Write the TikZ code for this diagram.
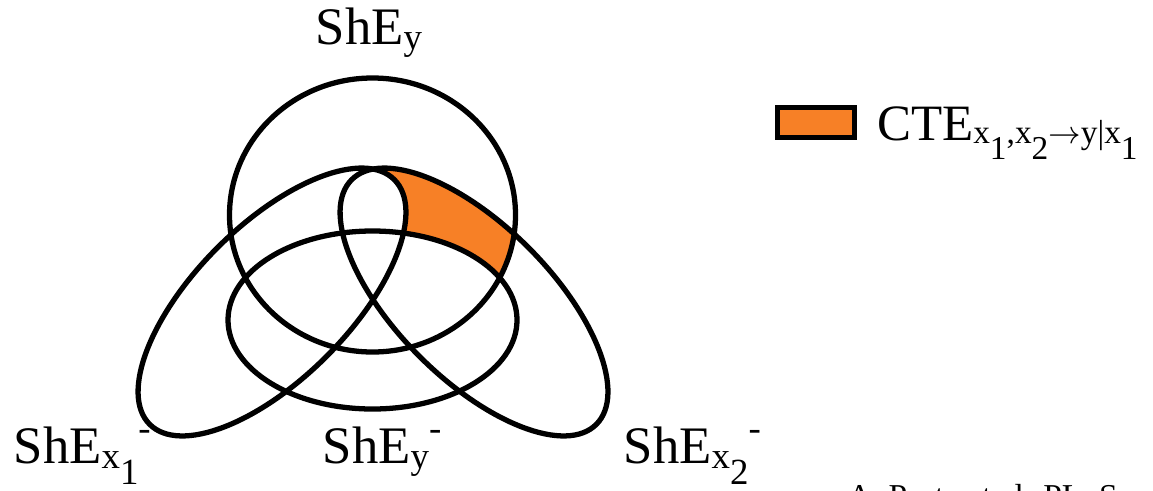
\documentclass[tikz,border=0pt]{standalone}
\usepackage{fontspec}
\setmainfont{Liberation Serif}
\usetikzlibrary{positioning}
\definecolor{cteorange}{RGB}{247,128,38}

% low / lower / high index pieces, as in the slide
\newcommand{\lo}[1]{\raisebox{-1.5pt}{\fontsize{10.5}{12}\selectfont #1}}
\newcommand{\ctelo}[1]{\raisebox{-1pt}{\fontsize{9.5}{11}\selectfont #1}}
\newcommand{\lolo}[1]{\raisebox{-4.5pt}{#1}}
\newcommand{\hi}[1]{\raisebox{6.5pt}{\fontsize{10.5}{12}\selectfont #1}}

\begin{document}
\begin{tikzpicture}[
    setline/.style={draw=black, line width=1.5pt},
    lbl/.style={inner sep=0pt, anchor=base west,
                font=\fontsize{15}{18}\selectfont},
    keybox/.style={draw=black, line width=1.6pt, fill=cteorange,
                   minimum width=7.7mm, minimum height=3.0mm, inner sep=0pt},
    cite/.style={inner sep=0pt, anchor=base west,
                 font=\fontsize{9.5}{11}\selectfont},
]
\useasboundingbox (0,0) rectangle (11.53,4.90);

% centres of the four sets
\coordinate (ycen)  at (3.725,2.75);
\coordinate (ymcen) at (3.725,1.70);
\coordinate (x1cen) at (2.72,1.88);
\coordinate (x2cen) at (4.74,1.88);

% shaded piece: inside ShE_y and ShE_x2-, outside the other two
\begin{scope}
  \clip (ycen) ellipse [x radius=1.43, y radius=1.37];
  \clip[rotate around={-45:(x2cen)}] (x2cen) ellipse [x radius=1.73, y radius=0.77];
  \fill[cteorange] (ycen) circle (2);
  \fill[white, rotate around={45:(x1cen)}] (x1cen) ellipse [x radius=1.73, y radius=0.77];
  \fill[white] (ymcen) ellipse [x radius=1.445, y radius=0.89];
\end{scope}

\draw[setline] (ycen) ellipse [x radius=1.43, y radius=1.37];
\draw[setline] (ymcen) ellipse [x radius=1.445, y radius=0.89];
\draw[setline, rotate around={45:(x1cen)}] (x1cen) ellipse [x radius=1.73, y radius=0.77];
\draw[setline, rotate around={-45:(x2cen)}] (x2cen) ellipse [x radius=1.73, y radius=0.77];

\node[lbl] (shey)  at (3.15,4.46) {ShE\lo{y}};
\node[lbl] (shex1) at (0.13,0.27) {ShE\lo{x\lolo{1}}\hi{-}};
\node[lbl] (sheym) at (3.22,0.27) {ShE\lo{y}\hi{-}};
\node[lbl] (shex2) at (6.23,0.27) {ShE\lo{x\lolo{2}}\hi{-}};

% legend
\node[keybox] (key) at (8.16,3.675) {};
\node[lbl, font=\fontsize{14.5}{17}\selectfont] (cte) at ([xshift=1.9mm]key.south east)
     {CTE\ctelo{x\lolo{1},x\lolo{2}$\rightarrow$y|x\lolo{1}}};

\node[cite] (ref) at (8.47,-0.17) {A. Porta et al. PLoS};

\end{tikzpicture}
\end{document}
